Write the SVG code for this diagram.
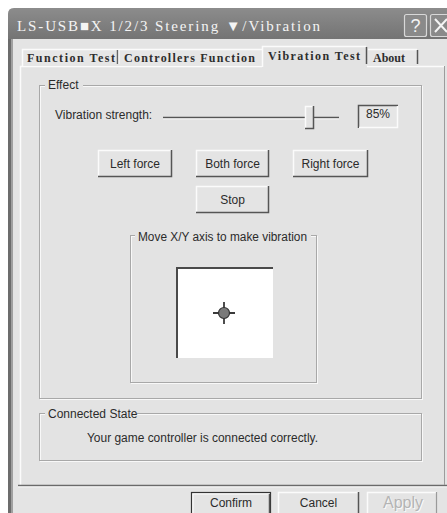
<svg xmlns="http://www.w3.org/2000/svg" width="447" height="513" viewBox="0 0 447 513">
<defs>
<style>
.sans{font-family:"Liberation Sans",Arial,sans-serif;font-size:12px;fill:#2b2b2b}
.mono{font-family:"Liberation Serif","Times New Roman",serif;font-weight:bold;font-size:12px;fill:#2e2e2e}
.grp{fill:none;stroke:#a8a8a8;stroke-width:1}
.grpw{fill:none;stroke:#f8f8f8;stroke-width:1}
.btn{fill:#e4e4e4;stroke:none}
.hi{stroke:#fbfbfb;stroke-width:1.5;fill:none}
.sh{stroke:#555;stroke-width:1.5;fill:none}
.sh2{stroke:#9c9c9c;stroke-width:1;fill:none}
.lblbg{fill:#e3e3e3}
</style>
<linearGradient id="tb" x1="0" y1="0" x2="0" y2="1">
<stop offset="0" stop-color="#8c8c8c"/>
<stop offset="1" stop-color="#747474"/>
</linearGradient>
</defs>
<rect x="0" y="0" width="447" height="513" fill="#ffffff"/>
<g id="window">
<path d="M8,513 V14 Q8,8 14,8 H447 V513 Z" fill="#e4e4e4"/>
<path d="M8,39 V14 Q8,8 14,8 H447 V39 Z" fill="url(#tb)"/>
<rect x="8" y="39" width="3" height="474" fill="#6c6c6c"/>
<rect x="11" y="39" width="2" height="474" fill="#a0a0a0"/>
<text x="17" y="31" font-family="'Liberation Serif','Times New Roman',serif" font-size="15" fill="#f4f4f4" textLength="303" lengthAdjust="spacing">LS-USB■X 1/2/3 Steering ▼/Vibration</text>
</g>
<g id="help-button">
<rect x="404.5" y="14.5" width="22" height="22" rx="2" fill="#8a8a8a" stroke="#d8d8d8" stroke-width="1.2"/>
<text x="415.5" y="32" font-family="'Liberation Sans',Arial,sans-serif" font-size="18" fill="#f4f4f4" text-anchor="middle">?</text>
</g>
<g id="close-button">
<rect x="430.5" y="14.5" width="22" height="22" rx="2" fill="#8a8a8a" stroke="#d8d8d8" stroke-width="1.2"/>
<path d="M435,19 L447,32 M447,19 L435,32" stroke="#f4f4f4" stroke-width="2"/>
</g>
<g id="tab-pane">
<rect x="20" y="66" width="425" height="419" fill="#e3e3e3"/>
<path d="M20.5,485 V66.5 H445" class="hi"/>
<path d="M18,485.5 H447" stroke="#6a6a6a" stroke-width="1.5"/>
<path d="M18,487 H447" stroke="#f4f4f4" stroke-width="1"/>
<path d="M444.5,66 V485" class="sh2"/>
</g>
<g id="tabs">
<rect x="22" y="49" width="240" height="17" fill="#e6e6e6"/>
<path d="M22.5,66 V49.5 H262" class="hi"/>
<path d="M117.5,50 V64" stroke="#666" stroke-width="1.5"/>
<path d="M119,50 V64" stroke="#fafafa" stroke-width="1"/>
<rect x="262" y="46" width="105" height="22" fill="#e3e3e3"/>
<path d="M262.5,67 V46.5 H366" class="hi"/>
<path d="M366.5,47 V64" class="sh"/>
<rect x="368" y="49" width="50" height="17" fill="#e6e6e6"/>
<path d="M368,49.5 H417" class="hi"/>
<path d="M417.5,50 V64" class="sh"/>
<text class="mono" x="27" y="62" textLength="88" lengthAdjust="spacing">Function Test</text>
<text class="mono" x="124" y="62" textLength="131" lengthAdjust="spacing">Controllers Function</text>
<text class="mono" x="268" y="60" textLength="92" lengthAdjust="spacing">Vibration Test</text>
<text class="mono" x="373" y="62" textLength="32" lengthAdjust="spacing">About</text>
</g>
<g id="effect-group">
<rect x="40.5" y="86.5" width="382" height="313" class="grpw"/>
<rect x="39.5" y="85.5" width="382" height="313" class="grp"/>
<rect x="45" y="80" width="38" height="10" class="lblbg"/>
<text class="sans" x="48" y="89">Effect</text>
</g>
<g id="strength-slider">
<text class="sans" x="55" y="119">Vibration strength:</text>
<path d="M163,117.5 H339" stroke="#555" stroke-width="1.3"/>
<path d="M163,119 H339" stroke="#f6f6f6" stroke-width="1"/>
<rect x="305" y="106" width="9" height="23" fill="#e3e3e3"/>
<path d="M305.5,129 V106.5 H313" class="hi"/>
<path d="M313.5,106 V128.5 H305" class="sh"/>
</g>
<g id="strength-value">
<rect x="358" y="105" width="40" height="23" fill="#e6e6e6"/>
<path d="M358.5,128 V105.5 H398" stroke="#555" stroke-width="1.5" fill="none"/>
<path d="M397.5,106 V127.5 H359" class="hi"/>
<text class="sans" x="366" y="118" font-size="11">85%</text>
</g>
<g id="btn-left-force">
<rect class="btn" x="98" y="150" width="74" height="27"/>
<path d="M98.5,177 V150.5 H172" class="hi"/>
<path d="M171.5,150 V176.5 H98" class="sh"/>
<text class="sans" x="135" y="168" text-anchor="middle">Left force</text>
</g>
<g id="btn-both-force">
<rect class="btn" x="196" y="150" width="73" height="27"/>
<path d="M196.5,177 V150.5 H269" class="hi"/>
<path d="M268.5,150 V176.5 H196" class="sh"/>
<text class="sans" x="232.5" y="168" text-anchor="middle">Both force</text>
</g>
<g id="btn-right-force">
<rect class="btn" x="293" y="150" width="75" height="27"/>
<path d="M293.5,177 V150.5 H368" class="hi"/>
<path d="M367.5,150 V176.5 H293" class="sh"/>
<text class="sans" x="330.5" y="168" text-anchor="middle">Right force</text>
</g>
<g id="btn-stop">
<rect class="btn" x="196" y="186" width="73" height="27"/>
<path d="M196.5,213 V186.5 H269" class="hi"/>
<path d="M268.5,186 V212.5 H196" class="sh"/>
<text class="sans" x="232.5" y="204" text-anchor="middle">Stop</text>
</g>
<g id="xy-group">
<rect x="131.5" y="236.5" width="186" height="147" class="grpw"/>
<rect x="130.5" y="235.5" width="186" height="147" class="grp"/>
<rect x="135" y="230" width="176" height="10" class="lblbg"/>
<text class="sans" x="138" y="241" textLength="169" lengthAdjust="spacingAndGlyphs">Move X/Y axis to make vibration</text>
</g>
<g id="xy-pad">
<rect x="176" y="267" width="97" height="91" fill="#ffffff"/>
<path d="M177,358 V268 H273" stroke="#4a4a4a" stroke-width="2" fill="none"/>
<path d="M213,313 H235 M224,302 V324" stroke="#3a3a3a" stroke-width="1.8"/>
<circle cx="224" cy="313" r="5.5" fill="#7a7a7a" stroke="#333" stroke-width="1.2"/>
</g>
<g id="connected-group">
<rect x="40.5" y="414.5" width="382" height="47" class="grpw"/>
<rect x="39.5" y="413.5" width="382" height="47" class="grp"/>
<rect x="45" y="408" width="92" height="10" class="lblbg"/>
<text class="sans" x="48" y="418">Connected State</text>
<text class="sans" x="87" y="442" textLength="231" lengthAdjust="spacingAndGlyphs">Your game controller is connected correctly.</text>
</g>
<g id="btn-confirm">
<rect class="btn" x="191" y="492" width="80" height="26"/>
<rect x="191.5" y="492.5" width="79" height="25" fill="none" stroke="#333" stroke-width="1.2"/>
<path d="M193,517 V494 H269" stroke="#fafafa" stroke-width="1.2" fill="none"/>
<path d="M269.5,494 V517" class="sh"/>
<text class="sans" x="231" y="507" text-anchor="middle">Confirm</text>
</g>
<g id="btn-cancel">
<rect class="btn" x="278" y="492" width="81" height="26"/>
<path d="M278.5,518 V492.5 H359" class="hi"/>
<path d="M358.5,492 V518" class="sh"/>
<text class="sans" x="318.5" y="507" text-anchor="middle">Cancel</text>
</g>
<g id="btn-apply">
<rect class="btn" x="367" y="492" width="70" height="26"/>
<path d="M367.5,518 V492.5 H437" class="hi"/>
<path d="M436.5,492 V518" stroke="#9a9a9a" stroke-width="1.2"/>
<text x="404" y="509" font-family="'Liberation Sans',Arial,sans-serif" font-size="16" fill="#fafafa" text-anchor="middle">Apply</text>
<text x="403" y="508" font-family="'Liberation Sans',Arial,sans-serif" font-size="16" fill="#b4b4b4" text-anchor="middle">Apply</text>
</g>
</svg>
